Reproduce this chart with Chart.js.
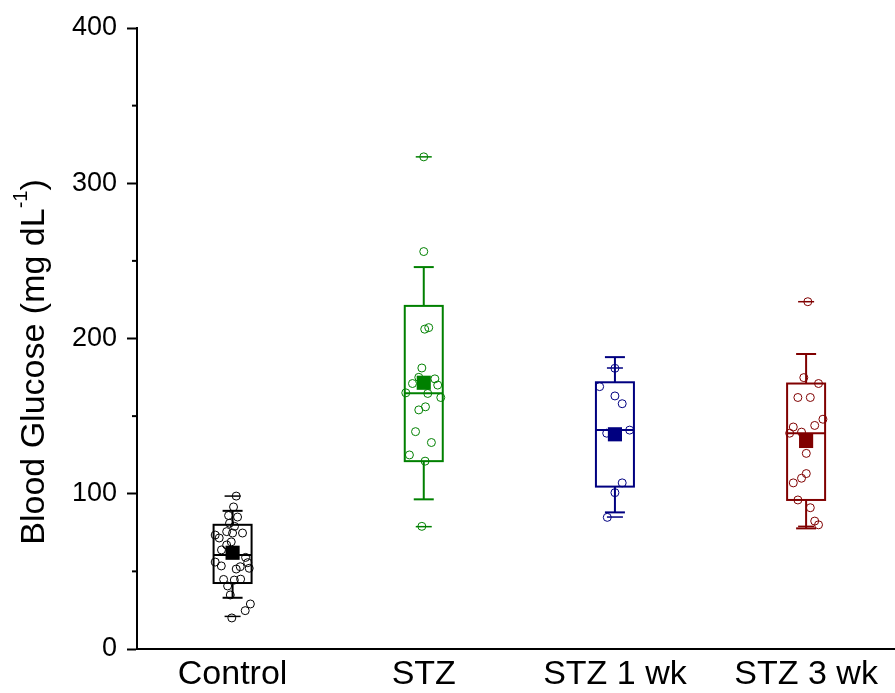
<!DOCTYPE html>
<html>
<head>
<meta charset="utf-8">
<script src="https://cdn.jsdelivr.net/npm/chart.js@4/dist/chart.umd.min.js"></script>
<style>
  html, body { margin: 0; padding: 0; background: #fff; overflow: hidden; }
  #wrap { position: relative; width: 895px; height: 693px; }
  canvas { display: block; }
</style>
</head>
<body>
<div id="wrap"><canvas id="glucoseChart"></canvas></div>
<script>
// Groups and colours
const categories = ['Control', 'STZ', 'STZ 1 wk', 'STZ 3 wk'];
const groupColors = ['#000000', '#008000', '#000080', '#800000'];

// Box summary per group (mg/dL)
const q1Values = [42.5, 121, 104.6, 96];
const medianValues = [60.5, 164.7, 141, 139];
const q3Values = [80, 221, 171.8, 171];
const whiskerLow = [33, 96.4, 88, 77.7];
const whiskerHigh = [89, 246, 188, 190];
const minValues = [21, 78.8, 85, 79];
const maxValues = [98.5, 317, 181, 223.7];
const meanValues = [62, 171.5, 138.3, 134];

// Raw points per group, jitter is offset in category units
const controlValues = [98.5, 91.5, 86, 85, 81, 79, 73.4, 71.5, 75.6, 74.7, 74.7, 69, 67, 63.8, 59, 56, 55.6, 53.5, 53, 52, 51.5, 44.8, 44.4, 45, 40.6, 34.8, 29, 24.7, 20];
const controlJitter = [0.019, 0.005, -0.021, 0.026, -0.016, 0.010, -0.091, -0.070, -0.031, 0, 0.052, -0.007, -0.031, -0.058, 0.068, -0.091, 0.079, -0.059, 0.040, 0.087, 0.019, -0.047, 0.009, 0.042, -0.026, -0.012, 0.093, 0.066, -0.004];

const stzValues = [317, 256, 206, 207, 181, 175, 174, 171, 170, 165, 164.6, 162, 156, 154, 140, 133, 125, 121, 79];
const stzJitter = [0, 0, 0.005, 0.026, -0.010, -0.026, 0.058, -0.059, 0.073, -0.094, 0.021, 0.089, 0.009, -0.026, -0.043, 0.040, -0.075, 0.007, -0.010];

const stz1Values = [180.8, 169, 163, 158, 139, 141, 107, 100.7, 84.8];
const stz1Jitter = [0, -0.080, 0, 0.038, -0.043, 0.077, 0.038, 0, -0.040];

const stz3Values = [223.7, 174.8, 171, 162, 162, 148, 143, 144, 139, 139.7, 126, 113, 110, 107, 96, 91, 82.4, 80];
const stz3Jitter = [0.009, -0.012, 0.065, -0.043, 0.022, 0.088, -0.067, 0.045, -0.086, -0.024, 0.001, 0.001, -0.024, -0.067, -0.043, 0.022, 0.045, 0.065];

const pointValues = [controlValues, stzValues, stz1Values, stz3Values];
const pointJitter = [controlJitter, stzJitter, stz1Jitter, stz3Jitter];

const yTicks = [0, 100, 200, 300, 400];
const yMinorTicks = [50, 150, 250, 350];

const fontFamily = '"Liberation Sans", Arial, Helvetica, sans-serif';

// boxes, whiskers and min/max dashes, drawn under the points
const boxPlotPlugin = {
    id: 'boxPlot',
    beforeDatasetsDraw(chart) {
        const ctx = chart.ctx;
        const x = chart.scales.x;
        const y = chart.scales.y;
        const line = (x1, y1, x2, y2) => {
            ctx.beginPath();
            ctx.moveTo(x1, y1);
            ctx.lineTo(x2, y2);
            ctx.stroke();
        };
        categories.forEach((name, i) => {
            const cx = x.getPixelForValue(i + 1);
            ctx.save();
            ctx.strokeStyle = groupColors[i];
            ctx.lineWidth = 2;
            line(cx, y.getPixelForValue(q3Values[i]), cx, y.getPixelForValue(whiskerHigh[i]));
            line(cx, y.getPixelForValue(q1Values[i]), cx, y.getPixelForValue(whiskerLow[i]));
            line(cx - 10, y.getPixelForValue(whiskerHigh[i]), cx + 10, y.getPixelForValue(whiskerHigh[i]));
            line(cx - 10, y.getPixelForValue(whiskerLow[i]), cx + 10, y.getPixelForValue(whiskerLow[i]));
            const top = y.getPixelForValue(q3Values[i]);
            const bottom = y.getPixelForValue(q1Values[i]);
            ctx.strokeRect(cx - 19, top, 38, bottom - top);
            line(cx - 19, y.getPixelForValue(medianValues[i]), cx + 19, y.getPixelForValue(medianValues[i]));
            ctx.lineWidth = 1.5;
            line(cx - 8, y.getPixelForValue(maxValues[i]), cx + 8, y.getPixelForValue(maxValues[i]));
            line(cx - 8, y.getPixelForValue(minValues[i]), cx + 8, y.getPixelForValue(minValues[i]));
            ctx.restore();
        });
    }
};

// minor ticks on y and the axis title with a superscript
const axisExtrasPlugin = {
    id: 'axisExtras',
    afterDraw(chart) {
        const ctx = chart.ctx;
        const y = chart.scales.y;
        const left = chart.chartArea.left;
        ctx.save();
        ctx.strokeStyle = '#000';
        ctx.lineWidth = 2;
        yMinorTicks.forEach(v => {
            const py = y.getPixelForValue(v);
            ctx.beginPath();
            ctx.moveTo(left - 5, py);
            ctx.lineTo(left, py);
            ctx.stroke();
        });

        const mainText = 'Blood Glucose (mg dL';
        const supText = '-1';
        const endText = ')';
        ctx.translate(35, 362);
        ctx.rotate(-Math.PI / 2);
        ctx.fillStyle = '#000';
        ctx.textBaseline = 'middle';
        ctx.textAlign = 'left';
        ctx.font = '34px ' + fontFamily;
        const wMain = ctx.measureText(mainText).width;
        const wEnd = ctx.measureText(endText).width;
        ctx.font = '20px ' + fontFamily;
        const wSup = ctx.measureText(supText).width;
        let start = -(wMain + wSup + wEnd) / 2;
        ctx.font = '34px ' + fontFamily;
        ctx.fillText(mainText, start, 0);
        ctx.font = '20px ' + fontFamily;
        ctx.fillText(supText, start + wMain, -14);
        ctx.font = '34px ' + fontFamily;
        ctx.fillText(endText, start + wMain + wSup, 0);
        ctx.restore();
    }
};

const pointDatasets = categories.map((name, i) => ({
    type: 'scatter',
    label: name,
    data: pointValues[i].map((v, k) => ({ x: i + 1 + pointJitter[i][k], y: v })),
    pointStyle: 'circle',
    pointRadius: 4,
    pointBorderWidth: 1,
    pointBorderColor: groupColors[i],
    pointBackgroundColor: 'rgba(0,0,0,0)',
    order: 2
}));

const meanDataset = {
    type: 'scatter',
    label: 'Mean',
    data: meanValues.map((v, i) => ({ x: i + 1, y: v })),
    pointStyle: 'rect',
    pointRadius: 10,
    pointBorderWidth: 0,
    pointBackgroundColor: groupColors,
    pointBorderColor: groupColors,
    order: 1
};

const ctx = document.getElementById('glucoseChart').getContext('2d');
const chart = new Chart(ctx, {
    type: 'scatter',
    data: { datasets: [...pointDatasets, meanDataset] },
    options: {
        responsive: true,
        maintainAspectRatio: false,
        animation: false,
        layout: { autoPadding: false, padding: { top: 28, left: 0, right: 0, bottom: 0 } },
        plugins: {
            legend: { display: false },
            tooltip: { enabled: false }
        },
        scales: {
            x: {
                type: 'linear',
                min: 0.5,
                max: 4.465,
                afterBuildTicks: (scale) => { scale.ticks = categories.map((c, i) => ({ value: i + 1 })); },
                afterFit: (scale) => {
                    scale.height = 44;
                    scale.paddingLeft = 0;
                    scale.paddingRight = 0;
                },
                grid: { drawOnChartArea: false, drawTicks: false },
                border: { display: true, color: '#000', width: 2 },
                ticks: {
                    autoSkip: false,
                    maxRotation: 0,
                    padding: 5,
                    color: '#000',
                    font: { size: 34, family: fontFamily },
                    callback: (v) => categories[Math.round(v) - 1] || ''
                }
            },
            y: {
                min: 0,
                max: 400,
                afterBuildTicks: (scale) => { scale.ticks = yTicks.map(v => ({ value: v })); },
                afterFit: (scale) => { scale.width = 137; },
                grid: { drawOnChartArea: false, drawTicks: true, tickLength: 10, tickWidth: 2, tickColor: '#000' },
                border: { display: true, color: '#000', width: 2 },
                ticks: {
                    padding: 10,
                    color: '#000',
                    font: { size: 27, family: fontFamily }
                }
            }
        }
    },
    plugins: [boxPlotPlugin, axisExtrasPlugin]
});
</script>
</body>
</html>
